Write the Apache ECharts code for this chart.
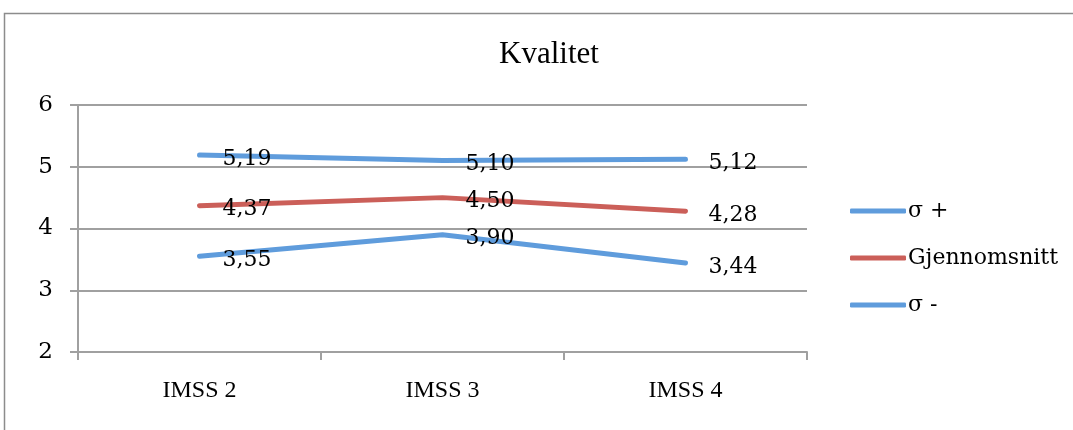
<!DOCTYPE html>
<html>
<head>
<meta charset="utf-8">
<script src="https://cdn.jsdelivr.net/npm/echarts@6/dist/echarts.min.js"></script>
<style>
html,body{margin:0;padding:0;background:#fff;}
#c{width:1073px;height:430px;}
</style>
</head>
<body>
<div id="c"></div>
<script>
var categories = ['IMSS 2', 'IMSS 3', 'IMSS 4'];
var sigmaPlus = [5.19, 5.10, 5.12];
var mean = [4.37, 4.50, 4.28];
var sigmaMinus = [3.55, 3.90, 3.44];
var seriesNames = ['σ +', 'Gjennomsnitt', 'σ -'];
var yMin = 2, yMax = 6, yInterval = 1;

var BLUE = '#5f9cdc';
var RED = '#cb5f59';
var serif = '"DejaVu Serif", serif';

function mk(name, data, color) {
  return {
    name: name,
    type: 'line',
    data: data,
    symbol: 'circle',
    symbolSize: 2,
    showSymbol: true,
    lineStyle: { width: 5, color: color, cap: 'round', join: 'round' },
    itemStyle: { color: color, borderWidth: 0 },
    label: {
      show: true,
      position: [24, 5],
      align: 'left',
      verticalAlign: 'middle',
      color: '#000',
      fontFamily: serif,
      fontSize: 22,
      formatter: function (p) { return p.value.toFixed(2).replace('.', ','); }
    },
    labelLayout: { hideOverlap: false },
    emphasis: { disabled: true },
    animation: false
  };
}

var chart = echarts.init(document.getElementById('c'), null, { renderer: 'canvas' });
chart.setOption({
  animation: false,
  backgroundColor: '#fff',
  graphic: [{
    type: 'rect',
    shape: { x: 4.5, y: 13.5, width: 1200, height: 600 },
    style: { fill: 'none', stroke: '#8c8c8c', lineWidth: 1.5 },
    silent: true, z: -1
  }],
  title: {
    text: 'Kvalitet',
    left: 544, textAlign: 'center',
    top: 34,
    textStyle: { fontFamily: '"Liberation Serif", serif', fontSize: 31, fontWeight: 'normal', color: '#000' }
  },
  legend: {
    orient: 'vertical',
    left: 845,
    top: 195,
    itemWidth: 56,
    itemHeight: 5,
    itemGap: 25,
    icon: 'roundRect',
    textStyle: { fontFamily: serif, fontSize: 22, color: '#000', lineHeight: 22, padding: [0, 0, 0, -3] },
    data: seriesNames
  },
  grid: { left: 78, right: 266, top: 105, bottom: 78, containLabel: false },
  xAxis: {
    type: 'category',
    data: categories,
    boundaryGap: true,
    axisLine: { lineStyle: { color: '#a0a0a0', width: 2 } },
    axisTick: { show: true, length: 8, alignWithLabel: false, lineStyle: { color: '#a0a0a0', width: 2 } },
    axisLabel: { margin: 27, fontFamily: '"Liberation Serif", serif', fontSize: 24, color: '#000' }
  },
  yAxis: {
    type: 'value',
    min: yMin, max: yMax, interval: yInterval,
    axisLine: { show: true, lineStyle: { color: '#a0a0a0', width: 2 } },
    axisTick: { show: true, length: 8, lineStyle: { color: '#a0a0a0', width: 2 } },
    splitLine: { lineStyle: { color: '#a0a0a0', width: 2 } },
    axisLabel: { margin: 25, fontFamily: serif, fontSize: 23, color: '#000' }
  },
  series: [
    mk(seriesNames[0], sigmaPlus, BLUE),
    mk(seriesNames[1], mean, RED),
    mk(seriesNames[2], sigmaMinus, BLUE)
  ]
});
</script>
</body>
</html>
